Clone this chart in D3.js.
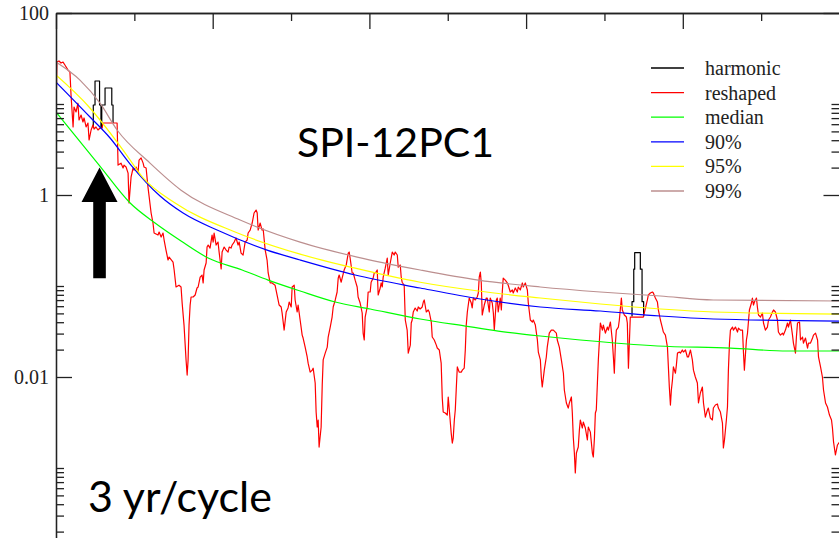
<!DOCTYPE html>
<html><head><meta charset="utf-8">
<script src="https://cdn.jsdelivr.net/npm/d3@7"></script>
<style>
body{margin:0;background:#fff}svg{display:block}
.serif{font-family:"Liberation Serif","Tinos","Times New Roman","DejaVu Serif",serif}
.sans{font-family:Lato,"Open Sans",sans-serif}
</style>
</head><body>
<svg id="chart" width="839" height="538"></svg>
<script>
// ---------------- data (frequency in cycles/month, spectral power) ----------------
const harmonicFreq = [0.0238,0.0238,0.0249,0.0278,0.0287,0.0292,0.0313,0.0356,0.0364,null,
  0.3676,0.3676,0.3687,0.3693,0.3729,0.3740,0.3750];
const harmonicPower = [5.45,9.75,17.9,9.75,5.45,9.75,15.0,9.75,6.18,null,
  0.0462,0.0672,0.153,0.233,0.153,0.0672,0.0462];

const reshapedFreq = [
0.0000,0.0006,0.0019,0.0032,0.0045,0.0057,0.0077,0.0089,0.0096,0.0109,
0.0115,0.0128,0.0140,0.0147,0.0160,0.0172,0.0179,0.0192,0.0204,0.0211,
0.0224,0.0236,0.0243,0.0255,0.0268,0.0281,0.0294,0.0300,0.0390,0.0396,
0.0415,0.0428,0.0434,0.0447,0.0460,0.0466,0.0479,0.0492,0.0498,0.0511,
0.0524,0.0530,0.0543,0.0556,0.0562,0.0575,0.0587,0.0607,0.0619,0.0626,
0.0651,0.0658,0.0671,0.0683,0.0690,0.0702,0.0715,0.0722,0.0747,0.0754,
0.0766,0.0785,0.0798,0.0805,0.0817,0.0830,0.0837,0.0843,0.0849,0.0856,
0.0862,0.0875,0.0888,0.0900,0.0907,0.0920,0.0932,0.0939,0.0945,0.0958,
0.0964,0.0971,0.0983,0.0996,0.1003,0.1009,0.1022,0.1034,0.1041,0.1054,
0.1060,0.1073,0.1086,0.1098,0.1105,0.1117,0.1124,0.1137,0.1149,0.1162,
0.1169,0.1181,0.1194,0.1207,0.1220,0.1226,0.1239,0.1252,0.1264,0.1277,
0.1284,0.1290,0.1303,0.1315,0.1322,0.1335,0.1347,0.1354,0.1367,0.1379,
0.1398,0.1411,0.1424,0.1437,0.1443,0.1456,0.1469,0.1481,0.1488,0.1501,
0.1507,0.1520,0.1526,0.1539,0.1545,0.1558,0.1571,0.1577,0.1590,0.1603,
0.1609,0.1622,0.1635,0.1641,0.1654,0.1660,0.1667,0.1673,0.1679,0.1692,
0.1699,0.1705,0.1718,0.1731,0.1737,0.1750,0.1762,0.1769,0.1782,0.1794,
0.1801,0.1807,0.1820,0.1826,0.1839,0.1852,0.1865,0.1871,0.1877,0.1890,
0.1897,0.1909,0.1922,0.1928,0.1941,0.1954,0.1960,0.1967,0.1973,0.1986,
0.1992,0.2005,0.2011,0.2024,0.2031,0.2043,0.2050,0.2056,0.2069,0.2075,
0.2082,0.2088,0.2101,0.2114,0.2120,0.2133,0.2146,0.2158,0.2165,0.2178,
0.2184,0.2197,0.2203,0.2209,0.2222,0.2229,0.2241,0.2248,0.2261,0.2267,
0.2273,0.2280,0.2292,0.2305,0.2312,0.2324,0.2337,0.2344,0.2350,0.2363,
0.2375,0.2382,0.2395,0.2401,0.2414,0.2427,0.2433,0.2446,0.2458,0.2465,
0.2471,0.2484,0.2497,0.2503,0.2510,0.2522,0.2529,0.2535,0.2542,0.2548,
0.2554,0.2561,0.2573,0.2586,0.2593,0.2605,0.2612,0.2618,0.2625,0.2637,
0.2650,0.2656,0.2663,0.2676,0.2688,0.2695,0.2701,0.2708,0.2714,0.2720,
0.2733,0.2746,0.2752,0.2765,0.2771,0.2784,0.2791,0.2797,0.2810,0.2816,
0.2822,0.2835,0.2842,0.2848,0.2854,0.2867,0.2880,0.2886,0.2899,0.2912,
0.2918,0.2931,0.2944,0.2950,0.2963,0.2976,0.2982,0.2995,0.3008,0.3014,
0.3027,0.3040,0.3046,0.3059,0.3072,0.3078,0.3091,0.3097,0.3103,0.3116,
0.3129,0.3135,0.3148,0.3161,0.3174,0.3193,0.3199,0.3212,0.3225,0.3238,
0.3244,0.3257,0.3269,0.3276,0.3289,0.3295,0.3301,0.3308,0.3314,0.3321,
0.3333,0.3340,0.3346,0.3359,0.3365,0.3378,0.3391,0.3397,0.3410,0.3423,
0.3429,0.3436,0.3442,0.3448,0.3455,0.3461,0.3474,0.3487,0.3493,0.3506,
0.3519,0.3525,0.3538,0.3550,0.3557,0.3563,0.3570,0.3576,0.3589,0.3595,
0.3608,0.3614,0.3627,0.3640,0.3646,0.3653,0.3665,0.3748,0.3774,0.3780,
0.3793,0.3806,0.3812,0.3825,0.3838,0.3844,0.3857,0.3870,0.3876,0.3889,
0.3902,0.3908,0.3914,0.3921,0.3927,0.3934,0.3940,0.3953,0.3959,0.3966,
0.3978,0.3985,0.3997,0.4004,0.4017,0.4029,0.4036,0.4049,0.4061,0.4068,
0.4080,0.4093,0.4100,0.4112,0.4125,0.4132,0.4144,0.4157,0.4163,0.4176,
0.4189,0.4195,0.4208,0.4221,0.4227,0.4240,0.4253,0.4259,0.4266,0.4278,
0.4285,0.4291,0.4298,0.4304,0.4317,0.4323,0.4336,0.4349,0.4355,0.4368,
0.4381,0.4387,0.4393,0.4406,0.4413,0.4425,0.4438,0.4444,0.4451,0.4457,
0.4470,0.4476,0.4483,0.4496,0.4508,0.4515,0.4527,0.4540,0.4547,0.4559,
0.4572,0.4579,0.4591,0.4604,0.4610,0.4623,0.4636,0.4642,0.4655,0.4668,
0.4674,0.4687,0.4700,0.4706,0.4719,0.4725,0.4732,0.4745,0.4751,0.4764,
0.4770,0.4783,0.4796,0.4802,0.4815,0.4828,0.4834,0.4847,0.4860,0.4866,
0.4879,0.4891,0.4898,0.4911,0.4923,0.4936,0.4949,0.4955,0.4962,0.4974,
0.4987,0.5000];
const reshapedPower = [
8.17,28.9,29.7,28.2,28.9,26.8,23.6,22.4,12.5,5.59,
9.27,8.17,10.2,6.67,7.57,6.34,7.02,5.59,6.18,4.02,
5.18,5.88,5.31,5.59,5.18,5.45,5.45,6.18,6.18,2.13,
2.24,1.98,2.13,2.03,1.74,0.817,1.57,1.98,1.88,2.03,
1.79,2.42,2.55,2.24,2.03,1.98,1.22,0.634,0.492,0.382,
0.363,0.392,0.345,0.382,0.320,0.248,0.193,0.208,0.183,0.150,
0.0975,0.102,0.0975,0.0650,0.0372,0.0154,0.0105,0.0154,0.0372,0.0618,
0.0757,0.0757,0.0796,0.0951,0.0975,0.125,0.132,0.108,0.150,0.179,
0.268,0.282,0.261,0.363,0.304,0.382,0.282,0.304,0.236,0.154,
0.236,0.268,0.248,0.236,0.268,0.261,0.282,0.304,0.337,0.282,
0.304,0.230,0.219,0.304,0.320,0.382,0.412,0.492,0.634,0.684,
0.634,0.412,0.492,0.412,0.423,0.248,0.193,0.139,0.108,0.108,
0.102,0.0796,0.0618,0.0588,0.0505,0.0328,0.0518,0.0573,0.0667,0.0588,
0.0975,0.102,0.0702,0.0518,0.0618,0.0423,0.0289,0.0268,0.0213,0.0166,
0.0142,0.0113,0.0119,0.0125,0.00859,0.00412,0.00282,0.00337,0.00170,0.00282,
0.00817,0.0154,0.0183,0.0213,0.0275,0.0354,0.0456,0.0588,0.0702,0.0859,
0.122,0.132,0.110,0.122,0.150,0.170,0.230,0.236,0.203,0.139,
0.139,0.116,0.0975,0.0757,0.0650,0.0505,0.0304,0.0255,0.0456,0.0588,
0.0859,0.0859,0.110,0.122,0.139,0.142,0.150,0.0796,0.0951,0.108,
0.0975,0.125,0.157,0.203,0.132,0.179,0.236,0.219,0.236,0.219,
0.161,0.170,0.125,0.110,0.102,0.0423,0.0328,0.0183,0.0224,0.0392,
0.0423,0.0518,0.0573,0.0531,0.0588,0.0559,0.0588,0.0667,0.0702,0.0518,
0.0545,0.0518,0.0402,0.0275,0.0255,0.0224,0.0208,0.0198,0.0142,0.00588,
0.00412,0.00402,0.00382,0.00603,0.00434,0.00242,0.00188,0.00213,0.00337,0.00434,
0.00720,0.0129,0.0113,0.0113,0.0119,0.0125,0.0198,0.0372,0.0518,0.0738,
0.0650,0.0573,0.0738,0.0702,0.0757,0.0838,0.125,0.142,0.108,0.0480,
0.0618,0.0738,0.0738,0.0518,0.0738,0.0650,0.0505,0.0328,0.0702,0.0738,
0.0518,0.0738,0.0545,0.0859,0.122,0.116,0.108,0.102,0.0859,0.0904,
0.0838,0.0951,0.0859,0.0975,0.0904,0.108,0.0975,0.108,0.0904,0.0650,
0.0423,0.0402,0.0423,0.0372,0.0255,0.0188,0.0154,0.0100,0.00776,0.0119,
0.0166,0.0213,0.0304,0.0328,0.0328,0.0304,0.0255,0.0213,0.0154,0.0110,
0.00720,0.00518,0.00456,0.00518,0.00603,0.00402,0.00219,0.00146,0.000881,0.00146,
0.00170,0.00261,0.00337,0.00275,0.00320,0.00275,0.00203,0.00282,0.00248,0.00146,
0.00132,0.00213,0.00402,0.00434,0.00859,0.0154,0.0392,0.0328,0.0372,0.0304,
0.0354,0.0328,0.0402,0.0255,0.0166,0.0110,0.0236,0.0328,0.0354,0.0423,
0.0738,0.0545,0.0480,0.0456,0.0392,0.0125,0.0456,0.0456,0.0702,0.0796,
0.0838,0.0859,0.0838,0.0738,0.0667,0.0545,0.0423,0.0345,0.0312,0.0289,
0.0213,0.0129,0.00776,0.00492,0.00720,0.00927,0.0129,0.0110,0.0135,0.0183,
0.0188,0.0183,0.0198,0.0188,0.0198,0.0166,0.0166,0.0198,0.0154,0.0119,
0.0100,0.00859,0.00518,0.00667,0.00776,0.00518,0.00363,0.00434,0.00456,0.00354,
0.00337,0.00456,0.00492,0.00505,0.00456,0.00412,0.00312,0.00166,0.00203,0.00337,
0.00468,0.0119,0.0236,0.0328,0.0354,0.0328,0.0354,0.0312,0.0345,0.0328,
0.0328,0.0188,0.0119,0.0255,0.0304,0.0545,0.0650,0.0738,0.0618,0.0667,
0.0738,0.0588,0.0480,0.0456,0.0505,0.0392,0.0328,0.0354,0.0423,0.0456,
0.0518,0.0545,0.0518,0.0423,0.0312,0.0289,0.0304,0.0289,0.0328,0.0392,
0.0354,0.0423,0.0289,0.0236,0.0183,0.0275,0.0392,0.0402,0.0255,0.0275,
0.0236,0.0268,0.0208,0.0236,0.0236,0.0268,0.0289,0.0304,0.0255,0.0166,
0.0129,0.0100,0.00720,0.00518,0.00468,0.00382,0.00337,0.00275,0.00193,0.00139,
0.00179,0.00193];

const medianFreq  = [0.0000,0.0275,0.0473,0.0632,0.0798,0.0971,0.1188,0.1354,0.1558,0.1782,0.2005,0.2324,0.2612,0.2822,0.3091,0.3346,0.3838,0.4304,0.4668,0.5000];
const medianPower = [8.17,2.13,0.817,0.492,0.312,0.203,0.150,0.116,0.0881,0.0667,0.0559,0.0434,0.0363,0.0320,0.0282,0.0255,0.0219,0.0208,0.0193,0.0193];

const p90Freq  = [0.0000,0.0217,0.0345,0.0473,0.0664,0.0811,0.1028,0.1347,0.1558,0.1909,0.2324,0.2708,0.3091,0.3474,0.3857,0.4195,0.5000];
const p90Power = [17.4,7.20,4.23,2.19,0.975,0.634,0.412,0.248,0.193,0.132,0.0951,0.0720,0.0588,0.0531,0.0468,0.0434,0.0412];

const p95Freq  = [0.0000,0.0211,0.0428,0.0556,0.0760,0.1143,0.1558,0.1909,0.2324,0.2695,0.3091,0.3474,0.3857,0.4195,0.5000];
const p95Power = [20.8,9.27,3.12,1.54,0.817,0.392,0.224,0.157,0.110,0.0881,0.0738,0.0634,0.0559,0.0518,0.0492];

const p99Freq  = [0.0000,0.0153,0.0281,0.0390,0.0600,0.0798,0.1175,0.1558,0.1922,0.2324,0.2695,0.3091,0.3474,0.3857,0.4195,0.5000];
const p99Power = [28.9,18.3,10.2,5.18,2.24,1.13,0.531,0.304,0.208,0.150,0.116,0.0975,0.0859,0.0776,0.0702,0.0684];

const yMajorTicks = [100, 1, 0.01];
const yTickLabels = ["100", "1", "0.01"];
const xMajorTicks = [0, 0.1, 0.2, 0.3, 0.4, 0.5];
const xMinorTicks = [0.05, 0.15, 0.25, 0.35, 0.45];
const legendLabels = ["harmonic", "reshaped", "median", "90%", "95%", "99%"];
const seriesColors = ["#000000", "#ff0000", "#00ff00", "#0000ff", "#ffff00", "#bc8f8f"];
const arrowFreq = 1 / 36;               // 3 yr/cycle
const arrowPowers = [2.0, 0.84, 0.122]; // tip, head base, tail

// ---------------- layout ----------------
const svg = d3.select("#chart");
const X0 = 56, X1 = 839.5, Y0 = 13, Y1 = 559;
const x = d3.scaleLinear().domain([0, 0.5]).range([X0, X1]);
const y = d3.scaleLog().domain([1e-4, 100]).range([Y1, Y0]);

svg.append("rect").attr("width", 839).attr("height", 538).attr("fill", "#fff");
svg.append("defs").append("clipPath").attr("id", "clip")
  .append("rect").attr("x", X0).attr("y", Y0).attr("width", X1 - X0).attr("height", Y1 - Y0);

const zip = (fs, vs) => fs.map((f, i) => ({ f, v: vs[i] }));
const valid = d => d.f !== null && d.v !== null;

const plot = svg.append("g").attr("clip-path", "url(#clip)");
const stepLine = d3.line().defined(valid).x(d => x(d.f)).y(d => y(d.v)).curve(d3.curveStepAfter);
const rawLine = d3.line().defined(valid).x(d => x(d.f)).y(d => y(d.v));
const smoothLine = d3.line().defined(valid).x(d => x(d.f)).y(d => y(d.v)).curve(d3.curveMonotoneX);

const series = [
  { data: zip(harmonicFreq, harmonicPower), gen: stepLine },
  { data: zip(reshapedFreq, reshapedPower), gen: rawLine },
  { data: zip(medianFreq, medianPower), gen: smoothLine },
  { data: zip(p90Freq, p90Power), gen: smoothLine },
  { data: zip(p95Freq, p95Power), gen: smoothLine },
  { data: zip(p99Freq, p99Power), gen: smoothLine }
];
series.forEach((s, i) => {
  plot.append("path").datum(s.data).attr("d", s.gen)
    .attr("fill", "none").attr("stroke", seriesColors[i])
    .attr("stroke-width", 1.2).attr("stroke-linejoin", "round");
});

// ---------------- axes ----------------
const yMinorTicks = [];
[1e-4, 1e-2, 1].forEach(b => { for (let n = 2; n <= 10; n++) yMinorTicks.push(+(n * b).toPrecision(3)); });
const axisColor = "#222";
function styleAxis(g) {
  g.select(".domain").attr("stroke", axisColor).attr("stroke-width", 1.3);
  g.selectAll(".tick line").attr("stroke", axisColor).attr("stroke-width", 1.3);
}
// left (ticks inward)
svg.append("g").attr("transform", `translate(${X0},0)`)
  .call(d3.axisRight(y).tickValues(yMinorTicks).tickSize(8).tickSizeOuter(0).tickFormat(""))
  .call(styleAxis);
const leftMajor = svg.append("g").attr("transform", `translate(${X0},0)`)
  .call(d3.axisRight(y).tickValues(yMajorTicks).tickSize(16).tickSizeOuter(0)
    .tickFormat(d => yTickLabels[yMajorTicks.indexOf(d)]))
  .call(styleAxis);
leftMajor.attr("font-family", null);
leftMajor.selectAll(".tick text")
  .attr("class", "serif")
  .attr("x", -7).attr("text-anchor", "end").attr("dy", "0.33em")
  .style("font-size", "20px").attr("fill", "#222");
// right (ticks inward)
svg.append("g").attr("transform", `translate(${X1},0)`)
  .call(d3.axisLeft(y).tickValues(yMinorTicks).tickSize(8).tickSizeOuter(0).tickFormat(""))
  .call(styleAxis);
svg.append("g").attr("transform", `translate(${X1},0)`)
  .call(d3.axisLeft(y).tickValues(yMajorTicks).tickSize(16).tickSizeOuter(0).tickFormat(""))
  .call(styleAxis);
// top (ticks inward)
svg.append("g").attr("transform", `translate(0,${Y0})`)
  .call(d3.axisBottom(x).tickValues(xMinorTicks).tickSize(8).tickSizeOuter(0).tickFormat(""))
  .call(styleAxis);
svg.append("g").attr("transform", `translate(0,${Y0})`)
  .call(d3.axisBottom(x).tickValues(xMajorTicks).tickSize(16).tickSizeOuter(0).tickFormat(""))
  .call(styleAxis);

// ---------------- legend ----------------
const legend = svg.append("g");
legendLabels.forEach((lab, i) => {
  const ly = 68 + i * 24.6;
  legend.append("line").attr("x1", 651).attr("x2", 684).attr("y1", ly).attr("y2", ly)
    .attr("stroke", seriesColors[i]).attr("stroke-width", 1.3);
  legend.append("text").attr("class", "serif").attr("x", 705).attr("y", ly + 7).text(lab)
    .style("font-size", "20px").attr("fill", "#222");
});

// ---------------- annotations ----------------
const ax = x(arrowFreq), tipY = y(arrowPowers[0]), baseY = y(arrowPowers[1]), tailY = y(arrowPowers[2]);
const headHalf = 18, shaftHalf = 6.3;
svg.append("path").attr("fill", "#000")
  .attr("d", `M${ax},${tipY}L${ax + headHalf},${baseY}L${ax + shaftHalf},${baseY}L${ax + shaftHalf},${tailY}` +
             `L${ax - shaftHalf},${tailY}L${ax - shaftHalf},${baseY}L${ax - headHalf},${baseY}Z`);

svg.append("text").attr("class", "sans").attr("x", 297).attr("y", 157).text("SPI-12PC1")
  .style("font-size", "41px").attr("fill", "#000");
svg.append("text").attr("class", "sans").attr("x", 88).attr("y", 512).text("3 yr/cycle")
  .style("font-size", "43px").attr("fill", "#000");
</script>
</body></html>
